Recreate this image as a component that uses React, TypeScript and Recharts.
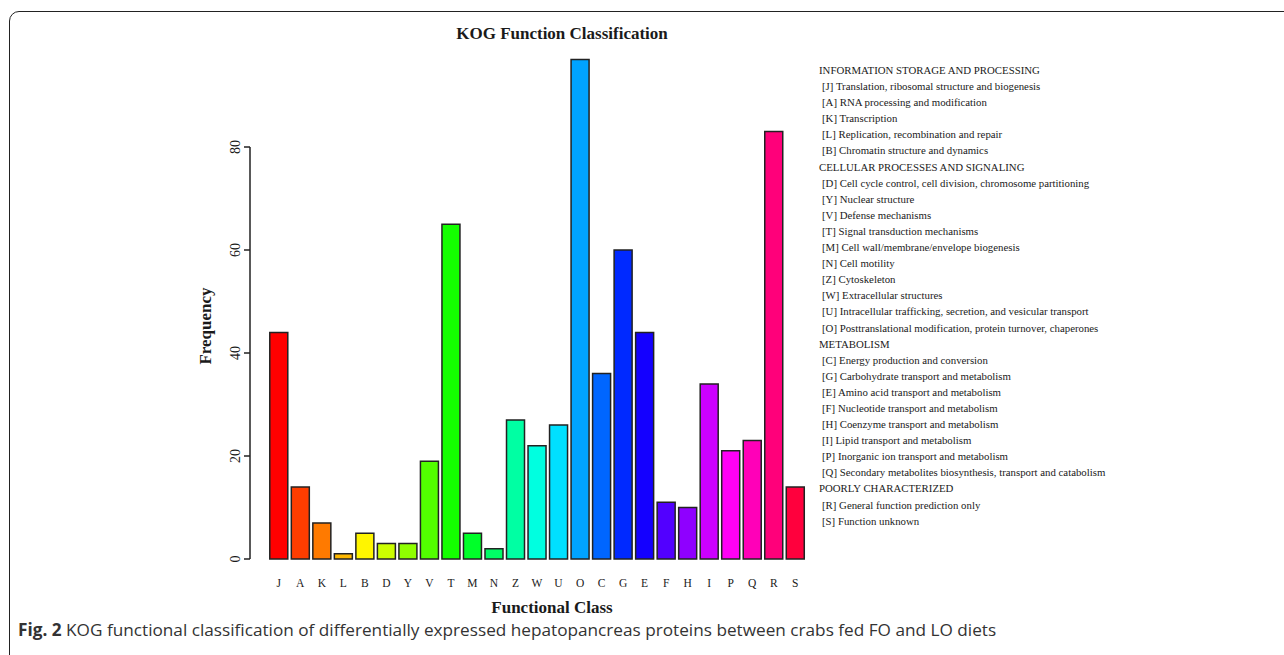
import React from 'react';
import { BarChart, Bar, XAxis, YAxis, Cell, ReferenceLine } from 'recharts';

const categories = ['J', 'A', 'K', 'L', 'B', 'D', 'Y', 'V', 'T', 'M', 'N', 'Z', 'W', 'U', 'O', 'C', 'G', 'E', 'F', 'H', 'I', 'P', 'Q', 'R', 'S'];
const frequencies = [44, 14, 7, 1, 5, 3, 3, 19, 65, 5, 2, 27, 22, 26, 97, 36, 60, 44, 11, 10, 34, 21, 23, 83, 14];
const barColors = [
  '#FF0000', '#FF3D00', '#FF7A00', '#FFB800', '#FFF500', '#CCFF00', '#8FFF00', '#52FF00', '#14FF00',
  '#00FF29', '#00FF66', '#00FFA3', '#00FFE0', '#00E0FF', '#00A3FF', '#0066FF', '#0029FF', '#1400FF',
  '#5200FF', '#8F00FF', '#CC00FF', '#FF00F5', '#FF00B8', '#FF007A', '#FF003D',
];
const yTicks = [0, 20, 40, 60, 80];

const chartTitle = 'KOG Function Classification';
const xAxisTitle = 'Functional Class';
const yAxisTitle = 'Frequency';

const groupHeadings = [
  'INFORMATION STORAGE AND PROCESSING',
  'CELLULAR PROCESSES AND SIGNALING',
  'METABOLISM',
  'POORLY CHARACTERIZED',
];
const infoItems = [
  '[J] Translation, ribosomal structure and biogenesis',
  '[A] RNA processing and modification',
  '[K] Transcription',
  '[L] Replication, recombination and repair',
  '[B] Chromatin structure and dynamics',
];
const cellItems = [
  '[D] Cell cycle control, cell division, chromosome partitioning',
  '[Y] Nuclear structure',
  '[V] Defense mechanisms',
  '[T] Signal transduction mechanisms',
  '[M] Cell wall/membrane/envelope biogenesis',
  '[N] Cell motility',
  '[Z] Cytoskeleton',
  '[W] Extracellular structures',
  '[U] Intracellular trafficking, secretion, and vesicular transport',
  '[O] Posttranslational modification, protein turnover, chaperones',
];
const metabItems = [
  '[C] Energy production and conversion',
  '[G] Carbohydrate transport and metabolism',
  '[E] Amino acid transport and metabolism',
  '[F] Nucleotide transport and metabolism',
  '[H] Coenzyme transport and metabolism',
  '[I] Lipid transport and metabolism',
  '[P] Inorganic ion transport and metabolism',
  '[Q] Secondary metabolites biosynthesis, transport and catabolism',
];
const poorItems = [
  '[R] General function prediction only',
  '[S] Function unknown',
];
const groupItems = [infoItems, cellItems, metabItems, poorItems];

const captionLabel = 'Fig. 2';
const captionText = ' KOG functional classification of differentially expressed hepatopancreas proteins between crabs fed FO and LO diets';

const data = categories.map((c, i) => ({ name: c, value: frequencies[i] }));

const SERIF = '"Liberation Serif", "Times New Roman", "DejaVu Serif", serif';
const INK = '#1a1a1a';

const YTick = (props: any) => {
  const { x, y, payload } = props;
  const cx = x - 9;
  return (
    <text
      x={cx}
      y={y}
      transform={`rotate(-90, ${cx}, ${y})`}
      textAnchor="middle"
      dominantBaseline="central"
      fontFamily={SERIF}
      fontSize={14}
      fill={INK}
    >
      {payload.value}
    </text>
  );
};

const XTick = (props: any) => {
  const { x, y, payload } = props;
  return (
    <text
      x={x}
      y={y + 24}
      textAnchor="middle"
      dominantBaseline="central"
      fontFamily={SERIF}
      fontSize={11.5}
      fill={INK}
    >
      {payload.value}
    </text>
  );
};

export default function App() {
  const legendLines: { text: string; heading: boolean }[] = [];
  groupHeadings.forEach((h, gi) => {
    legendLines.push({ text: h, heading: true });
    groupItems[gi].forEach((t) => legendLines.push({ text: t, heading: false }));
  });

  return (
    <div
      style={{
        position: 'fixed',
        left: 0,
        top: 0,
        width: 1284,
        height: 655,
        overflow: 'hidden',
        background: '#ffffff',
      }}
    >
      <div
        style={{
          position: 'absolute',
          left: 9,
          top: 11,
          width: 1400,
          height: 800,
          border: '1.5px solid #222',
          borderRadius: 10,
          boxSizing: 'border-box',
        }}
      />
      <div style={{ position: 'absolute', left: 0, top: 0 }}>
        <BarChart
          width={1284}
          height={655}
          data={data}
          margin={{ top: 44, right: 478, bottom: 66, left: 210 }}
          barCategoryGap="8.33%"
        >
          <XAxis
            dataKey="name"
            type="category"
            axisLine={false}
            tickLine={false}
            tickSize={0}
            tickMargin={0}
            height={30}
            interval={0}
            padding={{ left: 18, right: 0 }}
            tick={<XTick />}
          />
          <XAxis xAxisId="n" type="number" domain={[0, 1]} hide />
          <YAxis
            type="number"
            domain={[0, 100]}
            ticks={yTicks}
            width={40}
            axisLine={false}
            tickLine={{ stroke: '#222', strokeWidth: 1.5 }}
            tickSize={6}
            tickMargin={0}
            interval={0}
            tick={<YTick />}
          />
          <ReferenceLine
            xAxisId="n"
            segment={[
              { x: 0, y: yTicks[0] },
              { x: 0, y: yTicks[yTicks.length - 1] },
            ]}
            stroke="#222"
            strokeWidth={1.5}
            ifOverflow="visible"
          />
          <Bar dataKey="value" isAnimationActive={false} stroke="#222" strokeWidth={1.5}>
            {data.map((d, i) => (
              <Cell key={d.name} fill={barColors[i]} />
            ))}
          </Bar>
        </BarChart>
      </div>

      <div
        style={{
          position: 'absolute',
          left: 562,
          top: 33,
          transform: 'translate(-50%, -50%)',
          fontFamily: SERIF,
          fontWeight: 'bold',
          fontSize: 17,
          lineHeight: 1,
          whiteSpace: 'nowrap',
          color: INK,
        }}
      >
        {chartTitle}
      </div>

      <div
        style={{
          position: 'absolute',
          left: 552,
          top: 607,
          transform: 'translate(-50%, -50%)',
          fontFamily: SERIF,
          fontWeight: 'bold',
          fontSize: 17,
          lineHeight: 1,
          whiteSpace: 'nowrap',
          color: INK,
        }}
      >
        {xAxisTitle}
      </div>

      <div
        style={{
          position: 'absolute',
          left: 205,
          top: 326,
          transform: 'translate(-50%, -50%) rotate(-90deg)',
          fontFamily: SERIF,
          fontWeight: 'bold',
          fontSize: 17,
          lineHeight: 1,
          whiteSpace: 'nowrap',
          color: INK,
        }}
      >
        {yAxisTitle}
      </div>

      <div
        style={{
          position: 'absolute',
          left: 819,
          top: 62,
          fontFamily: SERIF,
          fontSize: 10.8,
          lineHeight: '16.1px',
          color: INK,
          whiteSpace: 'nowrap',
        }}
      >
        {legendLines.map((l, i) => (
          <div key={i} style={{ paddingLeft: l.heading ? 0 : 3 }}>
            {l.text}
          </div>
        ))}
      </div>

      <div
        style={{
          position: 'absolute',
          left: 18,
          top: 630,
          transform: 'translateY(-50%)',
          fontFamily: '"Open Sans", "Noto Sans", sans-serif',
          fontSize: 17.2,
          lineHeight: 1,
          whiteSpace: 'nowrap',
          color: '#333',
        }}
      >
        <span style={{ fontWeight: 'bold' }}>{captionLabel}</span>
        {captionText}
      </div>
    </div>
  );
}
